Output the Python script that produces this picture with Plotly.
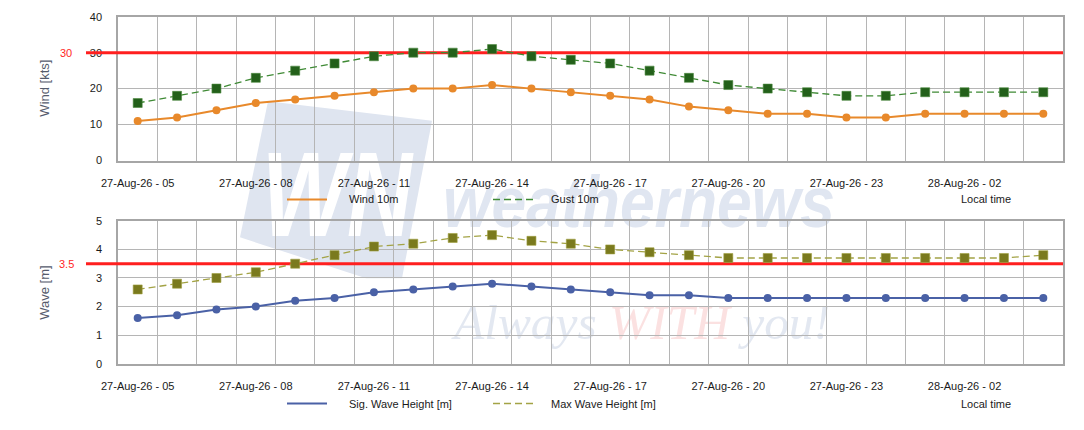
import base64
import plotly.graph_objects as go

# ---------------- data ----------------
times = ["27-Aug-26 - 05", "27-Aug-26 - 06", "27-Aug-26 - 07", "27-Aug-26 - 08",
         "27-Aug-26 - 09", "27-Aug-26 - 10", "27-Aug-26 - 11", "27-Aug-26 - 12",
         "27-Aug-26 - 13", "27-Aug-26 - 14", "27-Aug-26 - 15", "27-Aug-26 - 16",
         "27-Aug-26 - 17", "27-Aug-26 - 18", "27-Aug-26 - 19", "27-Aug-26 - 20",
         "27-Aug-26 - 21", "27-Aug-26 - 22", "27-Aug-26 - 23", "28-Aug-26 - 00",
         "28-Aug-26 - 01", "28-Aug-26 - 02", "28-Aug-26 - 03", "28-Aug-26 - 04"]
wind_10m = [11, 12, 14, 16, 17, 18, 19, 20, 20, 21, 20, 19, 18, 17, 15, 14, 13, 13, 12, 12, 13, 13, 13, 13]
gust_10m = [16, 18, 20, 23, 25, 27, 29, 30, 30, 31, 29, 28, 27, 25, 23, 21, 20, 19, 18, 18, 19, 19, 19, 19]
sig_wave = [1.6, 1.7, 1.9, 2.0, 2.2, 2.3, 2.5, 2.6, 2.7, 2.8, 2.7, 2.6, 2.5, 2.4, 2.4, 2.3, 2.3, 2.3, 2.3, 2.3, 2.3, 2.3, 2.3, 2.3]
max_wave = [2.6, 2.8, 3.0, 3.2, 3.5, 3.8, 4.1, 4.2, 4.4, 4.5, 4.3, 4.2, 4.0, 3.9, 3.8, 3.7, 3.7, 3.7, 3.7, 3.7, 3.7, 3.7, 3.7, 3.8]
wind_limit = 30
wave_limit = 3.5
wind_ticks = [0, 10, 20, 30, 40]
wave_ticks = [0, 1, 2, 3, 4, 5]
tick_step = 3

# ---------------- layout helpers ----------------
W, H = 1084, 430
L, R = 118, 21
PW = W - L - R


def px(xp):
    return (xp - L) / PW


def py(yp):
    return 1 - yp / H


x_idx = list(range(len(times)))
x_range = [-0.5, len(times) - 0.5]
tickvals = x_idx[::tick_step]
ticktext = times[::tick_step]
bounds = [i - 0.5 for i in range(len(times) + 1)]

FONT = "Liberation Sans, Arial, sans-serif"
GRID = "#b5b5b5"
BORDER = "#a6a6a6"

ORANGE = "#e8892b"
GREEN_M = "#23601a"
GREEN_L = "#3f8a35"
BLUE = "#4a61a6"
OLIVE_M = "#7a7a1e"
OLIVE_L = "#a3a345"
RED = "#ff1f1f"
DASH = "7px,4px"

fig = go.Figure()

# threshold lines first so that the series are drawn over them
fig.add_trace(go.Scatter(x=x_range, y=[wind_limit, wind_limit], mode="lines",
                         line=dict(color=RED, width=3), hoverinfo="skip",
                         xaxis="x", yaxis="y", showlegend=False, cliponaxis=False))
fig.add_trace(go.Scatter(x=x_range, y=[wave_limit, wave_limit], mode="lines",
                         line=dict(color=RED, width=3), hoverinfo="skip",
                         xaxis="x2", yaxis="y2", showlegend=False, cliponaxis=False))

fig.add_trace(go.Scatter(x=x_idx, y=wind_10m, mode="lines+markers", name="Wind 10m",
                         line=dict(color=ORANGE, width=2),
                         marker=dict(symbol="circle", size=8, color=ORANGE),
                         xaxis="x", yaxis="y", showlegend=False))
fig.add_trace(go.Scatter(x=x_idx, y=gust_10m, mode="lines+markers", name="Gust 10m",
                         line=dict(color=GREEN_L, width=1.3, dash=DASH),
                         marker=dict(symbol="square", size=9, color=GREEN_M,
                                     line=dict(color="#4d8a3f", width=0.6)),
                         xaxis="x", yaxis="y", showlegend=False))
fig.add_trace(go.Scatter(x=x_idx, y=sig_wave, mode="lines+markers", name="Sig. Wave Height [m]",
                         line=dict(color=BLUE, width=2),
                         marker=dict(symbol="circle", size=8, color=BLUE),
                         xaxis="x2", yaxis="y2", showlegend=False))
fig.add_trace(go.Scatter(x=x_idx, y=max_wave, mode="lines+markers", name="Max Wave Height [m]",
                         line=dict(color=OLIVE_L, width=1.3, dash=DASH),
                         marker=dict(symbol="square", size=9, color=OLIVE_M,
                                     line=dict(color="#a0a040", width=0.6)),
                         xaxis="x2", yaxis="y2", showlegend=False))

xcommon = dict(range=x_range, tickmode="array", tickvals=tickvals,
               ticktext=ticktext, showgrid=False, zeroline=False,
               ticks="outside", ticklen=11, tickcolor="rgba(0,0,0,0)",
               tickfont=dict(family=FONT, size=11, color="#1a1a1a"),
               showline=True, mirror=True, linecolor=BORDER, linewidth=1.5,
               minor=dict(tickmode="array", tickvals=bounds, showgrid=True,
                          gridcolor=GRID, gridwidth=1, ticks=""),
               fixedrange=True)
ycommon = dict(showgrid=True, gridcolor=GRID, gridwidth=1, zeroline=False,
               ticks="outside", ticklen=12, tickcolor="rgba(0,0,0,0)",
               tickfont=dict(family=FONT, size=11, color="#1a1a1a"),
               showline=True, mirror=True, linecolor=BORDER, linewidth=1.5,
               tickmode="array", fixedrange=True)

fig.update_layout(
    width=W, height=H, autosize=False,
    margin=dict(l=L, r=R, t=0, b=0),
    paper_bgcolor="white", plot_bgcolor="rgba(0,0,0,0)",
    xaxis=dict(domain=[0, 1], anchor="y", **xcommon),
    xaxis2=dict(domain=[0, 1], anchor="y2", **xcommon),
    yaxis=dict(domain=[py(159), py(11)], anchor="x", range=[0, 40],
               tickvals=wind_ticks, **ycommon),
    yaxis2=dict(domain=[py(368), py(221)], anchor="x2", range=[0, 5],
                tickvals=wave_ticks, **ycommon),
    showlegend=False,
)

# threshold stubs in the left margin and their labels
for yref, val in [("y", wind_limit), ("y2", wave_limit)]:
    fig.add_shape(type="line", xref="paper", yref=yref, x0=px(86), x1=0, y0=val, y1=val,
                  line=dict(color=RED, width=3), layer="above")
    fig.add_annotation(xref="paper", yref=yref, x=px(66), y=val, text=str(val),
                       xanchor="center", yanchor="middle",
                       showarrow=False, font=dict(family=FONT, size=11, color=RED))

# axis titles
for ytxt, ypix in [("Wind [kts]", 85), ("Wave [m]", 295)]:
    fig.add_annotation(xref="paper", yref="paper", x=px(45), y=py(ypix), text=ytxt,
                       textangle=-90, showarrow=False, xanchor="center", yanchor="middle",
                       font=dict(family=FONT, size=13, color="#555b6c"))

# custom legends
legend_rows = [
    (199, [("Wind 10m", ORANGE, "solid", 2), ("Gust 10m", GREEN_L, DASH, 1.5)]),
    (409, [("Sig. Wave Height [m]", BLUE, "solid", 2), ("Max Wave Height [m]", OLIVE_L, DASH, 1.5)]),
]
starts = [(287, 327, 347), (493, 533, 549)]
for ypix, items in legend_rows:
    for (label, col, dash, lw), (x0, x1, xt) in zip(items, starts):
        fig.add_shape(type="line", xref="paper", yref="paper", x0=px(x0), x1=px(x1),
                      y0=py(ypix), y1=py(ypix), line=dict(color=col, width=lw, dash=dash))
        fig.add_annotation(xref="paper", yref="paper", x=px(xt), y=py(ypix), text=label,
                           xanchor="left", yanchor="middle", showarrow=False,
                           font=dict(family=FONT, size=11, color="#1a1a1a"))
    fig.add_annotation(xref="paper", yref="paper", x=px(986), y=py(ypix), text="Local time",
                       xanchor="center", yanchor="middle",
                       showarrow=False, font=dict(family=FONT, size=11, color="#1a1a1a"))

# watermark
svg = f'''<svg xmlns="http://www.w3.org/2000/svg" width="{W}" height="{H}" viewBox="0 0 {W} {H}">
<polygon points="268,98 432,118 402,280 366,280 240,238" fill="#dfe5f0"/>
<text x="262" y="237" font-family="Liberation Sans, Arial, sans-serif" font-weight="bold" font-style="italic" font-size="125" fill="#ffffff" textLength="150" lengthAdjust="spacingAndGlyphs">WN</text>
<text x="443" y="227" font-family="Liberation Sans, Arial, sans-serif" font-weight="bold" font-style="italic" font-size="75" fill="#e0e6f1" textLength="392" lengthAdjust="spacingAndGlyphs">weathernews</text>
<text x="454" y="343" font-family="Liberation Serif, Times New Roman, serif" font-style="italic" font-size="50" textLength="376" lengthAdjust="spacingAndGlyphs"><tspan fill="#e3e8f1">Always </tspan><tspan fill="#fbe1e1">WITH</tspan><tspan fill="#e3e8f1"> you!</tspan></text>
</svg>'''
src = "data:image/svg+xml;base64," + base64.b64encode(svg.encode("utf-8")).decode("ascii")
fig.add_layout_image(dict(source=src, xref="paper", yref="paper", x=px(0), y=1,
                          sizex=W / PW, sizey=1, xanchor="left", yanchor="top",
                          sizing="stretch", layer="below"))

fig.write_html("out.html", config={"displayModeBar": False},
               post_script="document.body.style.margin='0';document.body.style.overflow='hidden';")
